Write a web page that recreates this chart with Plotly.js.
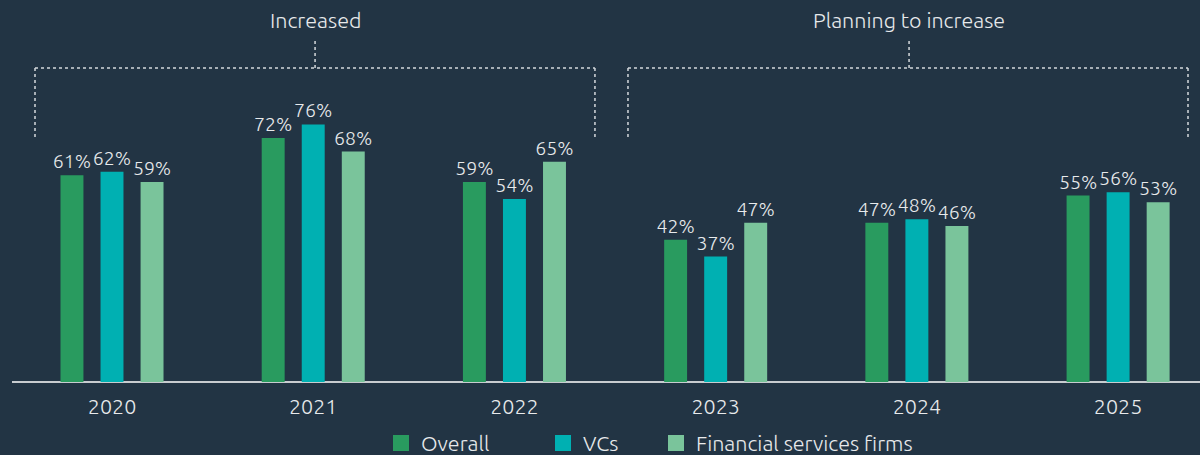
<!DOCTYPE html>
<html>
<head>
<meta charset="utf-8">
<script src="https://cdn.plot.ly/plotly-3.0.1.min.js"></script>
<style>html,body{margin:0;padding:0;background:#223444;}#chart{width:1200px;height:455px;}</style>
</head>
<body>
<div id="chart"></div>
<script>
const years = ['2020', '2021', '2022', '2023', '2024', '2025'];
const overall = [61, 72, 59, 42, 47, 55];
const vcs = [62, 76, 54, 37, 48, 56];
const financial = [59, 68, 65, 47, 46, 53];
const seriesNames = ['Overall', 'VCs', 'Financial services firms'];
const groupLabels = ['Increased', 'Planning to increase'];

const colors = ['#299b5f', '#00b0b2', '#7ac49b'];
const textColor = '#e8eaec';
const font = 'Ubuntu, "Noto Sans", "Open Sans", sans-serif';
const fsz = 21.5;
const fw = 300;

const series = [overall, vcs, financial];
const legendIds = ['legend', 'legend2', 'legend3'];
const traces = series.map((vals, i) => ({
  type: 'bar',
  x: years,
  y: vals,
  name: seriesNames[i],
  showlegend: false,
  marker: {color: colors[i], line: {width: 0}},
  text: vals.map(v => v + '%'),
  textposition: 'outside',
  textfont: {color: textColor, size: 19.5, family: font, weight: fw},
  constraintext: 'none',
  cliponaxis: false,
  hoverinfo: 'skip'
}));
// legend-only entries with larger square swatches
seriesNames.forEach((n, i) => traces.push({
  type: 'scatter', mode: 'markers', x: [null], y: [null], name: n,
  legend: legendIds[i], showlegend: true,
  marker: {symbol: 'square', size: 16, color: colors[i], line: {width: 0}},
  hoverinfo: 'skip'
}));

const dot = {color: '#d4d8dc', width: 1.5, dash: 'dot'};
function bracket(x0, x1, xm) {
  return [
    {type: 'line', xref: 'paper', yref: 'paper', x0: x0, x1: x1, y0: 0.822, y1: 0.822, line: dot},
    {type: 'line', xref: 'paper', yref: 'paper', x0: x0, x1: x0, y0: 0.822, y1: 0.639, line: dot},
    {type: 'line', xref: 'paper', yref: 'paper', x0: x1, x1: x1, y0: 0.822, y1: 0.639, line: dot},
    {type: 'line', xref: 'paper', yref: 'paper', x0: xm, x1: xm, y0: 0.822, y1: 0.8927, line: dot}
  ];
}
const shapes = [].concat(bracket(0.01936, 0.4907, 0.2551), bracket(0.5185, 0.9899, 0.7551));

const annotations = [
  {text: groupLabels[0], x: 0.2551, y: 0.9476, xref: 'paper', yref: 'paper', showarrow: false,
   xanchor: 'center', yanchor: 'middle', font: {color: textColor, size: fsz, family: font, weight: fw}},
  {text: groupLabels[1], x: 0.7551, y: 0.9476, xref: 'paper', yref: 'paper', showarrow: false,
   xanchor: 'center', yanchor: 'middle', font: {color: textColor, size: fsz, family: font, weight: fw}}
];

function leg(xpx) {
  return {orientation: 'h', x: (xpx - 12) / 1188, xanchor: 'left', y: -0.16, yanchor: 'middle',
    bgcolor: 'rgba(0,0,0,0)', font: {color: textColor, size: fsz, family: font, weight: fw}};
}

const layout = {
  width: 1200, height: 455,
  paper_bgcolor: '#223444', plot_bgcolor: '#223444',
  margin: {l: 12, r: 0, t: 0, b: 73, autoexpand: false},
  barmode: 'group',
  bargap: 0.403,
  bargroupgap: 0.427,
  showlegend: true,
  legend: leg(381),
  legend2: leg(543),
  legend3: leg(656),
  xaxis: {
    type: 'category',
    range: [-0.497, 5.407],
    showgrid: false, zeroline: false,
    showline: false,
    ticks: '',
    automargin: false,
    ticklabelstandoff: 9,
    tickfont: {color: textColor, size: fsz, family: font, weight: fw},
    fixedrange: true
  },
  yaxis: {
    range: [0, 112.7],
    automargin: false,
    showgrid: false, zeroline: true, zerolinecolor: '#c8ccd0', zerolinewidth: 2,
    showticklabels: false, showline: false, ticks: '',
    fixedrange: true
  },
  shapes: shapes,
  annotations: annotations,
  font: {family: font, color: textColor}
};

Plotly.newPlot('chart', traces, layout, {displayModeBar: false, staticPlot: true});
</script>
</body>
</html>
